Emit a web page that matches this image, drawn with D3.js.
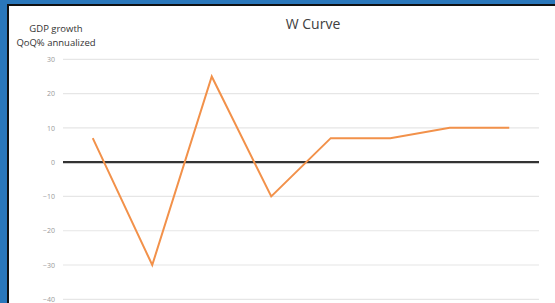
<!DOCTYPE html>
<html><head><meta charset="utf-8">
<script src="https://cdn.jsdelivr.net/npm/d3@7"></script>
<style>html,body{margin:0;padding:0;background:#2a77bb;overflow:hidden}</style>
</head><body>
<script>
const categories = ["Q1","Q2","Q3","Q4","Q5","Q6","Q7","Q8"];
const gdpGrowth = [7, -30, 25, -10, 7, 7, 10, 10];
const yTicks = [30, 20, 10, 0, -10, -20, -30, -40];
const chartTitle = "W Curve";
const yTitleLines = ["GDP growth", "QoQ% annualized"];

const W = 555, H = 303;
const svg = d3.select("body").append("svg").attr("width", W).attr("height", H).style("display","block");
svg.append("rect").attr("x",0).attr("y",0).attr("width",W).attr("height",H).attr("fill","#2a77bb");
svg.append("rect").attr("x",7).attr("y",4).attr("width",W).attr("height",H).attr("fill","#111");
svg.append("rect").attr("x",9).attr("y",6).attr("width",W).attr("height",H).attr("fill","#fff");

const x = d3.scaleBand().domain(categories).range([63, 539]);
const y = d3.scaleLinear().domain([-40, 30]).range([299.3, 59.3]);

const font = "'Open Sans', 'Liberation Sans', sans-serif";

// gridlines
svg.append("g").selectAll("line").data(yTicks.filter(d => d !== 0)).join("line")
  .attr("x1", 63).attr("x2", 539)
  .attr("y1", d => y(d)).attr("y2", d => y(d))
  .attr("stroke", "#e6e6e6").attr("stroke-width", 1.2);

// axis labels
const yAxis = d3.axisLeft(y).tickValues(yTicks).tickSize(0).tickPadding(0);
const ga = svg.append("g").attr("transform", "translate(55,0)").call(yAxis);
ga.select(".domain").remove();
ga.selectAll("text").attr("fill", "#9a9a9a").style("font-family", font).style("font-size", "7px");

// zero line
svg.append("line").attr("x1", 63).attr("x2", 539).attr("y1", y(0)).attr("y2", y(0))
  .attr("stroke", "#333").attr("stroke-width", 2.2);

// series
const line = d3.line().x((d, i) => x(categories[i]) + x.bandwidth() / 2).y(d => y(d));
svg.append("path").datum(gdpGrowth).attr("d", line)
  .attr("fill", "none").attr("stroke", "#f2914a").attr("stroke-width", 2).attr("stroke-linejoin","miter");

// title
svg.append("text").attr("x", 313).attr("y", 29).attr("text-anchor", "middle")
  .attr("fill", "#404040").style("font-family", font).style("font-size", "14px").text(chartTitle);

// y title
svg.append("text").attr("x", 56).attr("y", 32).attr("text-anchor", "middle")
  .attr("fill", "#333").style("font-family", font).style("font-size", "9.5px").text(yTitleLines[0]);
svg.append("text").attr("x", 56).attr("y", 46).attr("text-anchor", "middle")
  .attr("fill", "#333").style("font-family", font).style("font-size", "9.5px").text(yTitleLines[1]);
</script>
</body></html>
